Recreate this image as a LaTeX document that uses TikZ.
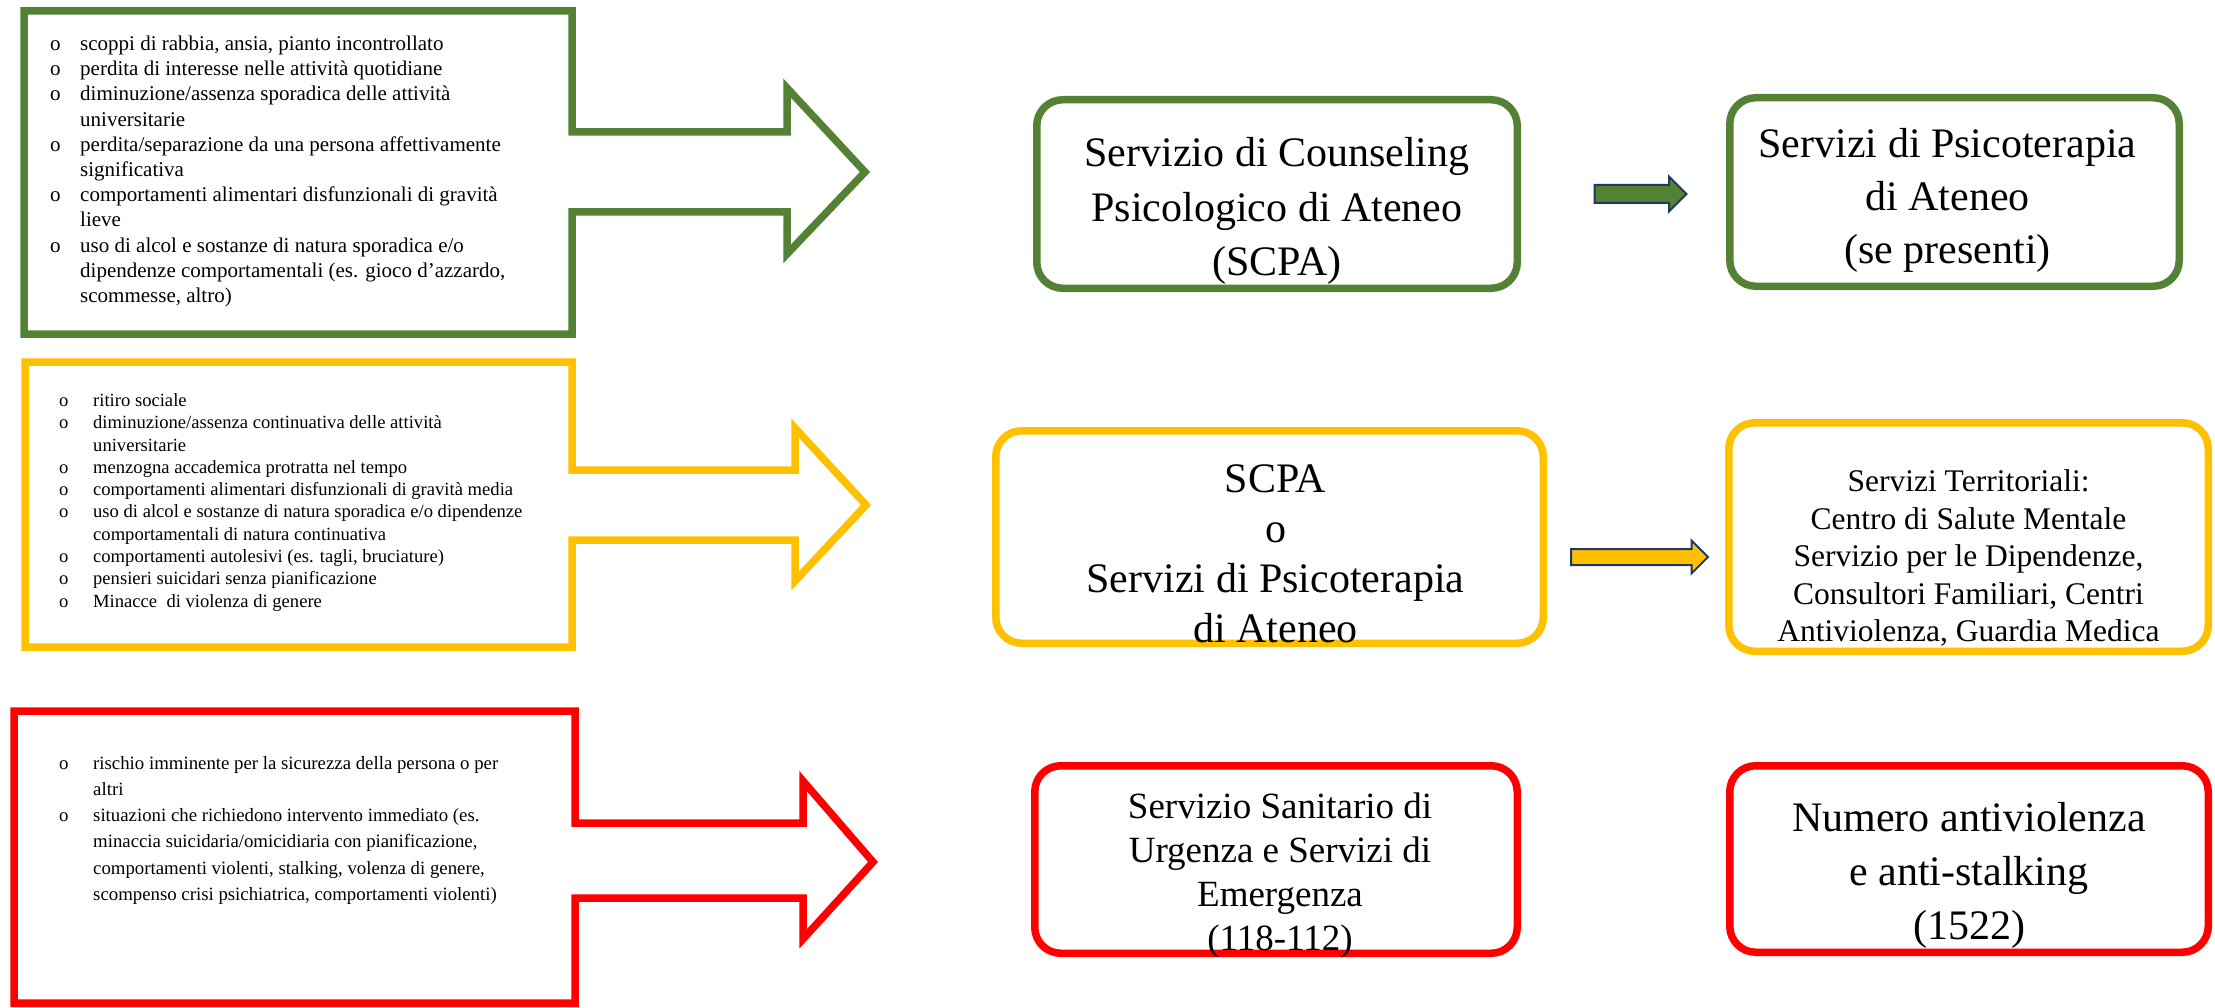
\documentclass[tikz,border=0pt]{standalone}
\usepackage{fontspec}
\setmainfont{Liberation Serif}
\usetikzlibrary{shapes.arrows,positioning}
\definecolor{cGrn} {HTML}{548235}
\definecolor{cYel} {HTML}{FFC000}
\definecolor{cRed} {HTML}{FF0000}
\definecolor{cNavy}{HTML}{1F3864}
\tikzset{
  frame/.style ={draw=#1,line width=7.5pt,line join=miter},
  svc/.style   ={draw=#1,line width=7.5pt,rounded corners=26pt,inner sep=0pt},
  svctxt/.style={align=center,inner sep=0pt},
  lst/.style   ={align=left,anchor=north west,inner sep=0pt},
  blk/.style   ={single arrow,draw=cNavy,fill=#1,line width=2pt,inner xsep=0pt,
                 single arrow head extend=8.5pt},
}
\newcommand\bl{\makebox[34pt][l]{o}}
\newcommand\blg{\makebox[34pt][l]{\hspace{4pt}o}}
\newcommand\nb{\hspace*{34pt}}

\begin{document}
\begin{tikzpicture}[x=1pt,y=-1pt]
\useasboundingbox (0,0) rectangle (2215,1008);

% symptom boxes, each with its own block arrow
\draw[frame=cGrn] (24,11) -| (572,132) -- (787,132) -- (787,88) -- (865,172)
  -- (787,254) -- (787,212) -- (572,212) |- (24,334) -- cycle;
\draw[frame=cYel] (25,362) -| (572,470) -- (795,470) -- (795,428) -- (866,505)
  -- (795,581) -- (795,540) -- (572,540) |- (25,647) -- cycle;
\draw[frame=cRed] (14,711) -| (575,823) -- (803,823) -- (803,781) -- (873,862)
  -- (803,939) -- (803,898) -- (575,898) |- (14,1003) -- cycle;

\node[lst,font=\fontsize{21pt}{25.2pt}\selectfont] (gsym) at (46,35.7)
  {\blg scoppi di rabbia, ansia, pianto incontrollato\\
   \blg perdita di interesse nelle attività quotidiane\\
   \blg diminuzione/assenza sporadica delle attività\\
   \nb universitarie\\
   \blg perdita/separazione da una persona affettivamente\\
   \nb significativa\\
   \blg comportamenti alimentari disfunzionali di gravità\\
   \nb lieve\\
   \blg uso di alcol e sostanze di natura sporadica e/o\\
   \nb dipendenze comportamentali (es. gioco d’azzardo,\\
   \nb scommesse, altro)};
\node[lst,font=\fontsize{18.6pt}{22.3pt}\selectfont] (ysym) at (59,393.3)
  {\bl ritiro sociale\\
   \bl diminuzione/assenza continuativa delle attività\\
   \nb universitarie\\
   \bl menzogna accademica protratta nel tempo\\
   \bl comportamenti alimentari disfunzionali di gravità media\\
   \bl uso di alcol e sostanze di natura sporadica e/o dipendenze\\
   \nb comportamentali di natura continuativa\\
   \bl comportamenti autolesivi (es. tagli, bruciature)\\
   \bl pensieri suicidari senza pianificazione\\
   \bl Minacce\ \ di violenza di genere};
\node[lst,font=\fontsize{18.8pt}{26.2pt}\selectfont] (rsym) at (59,756)
  {\bl rischio imminente per la sicurezza della persona o per\\
   \nb altri\\
   \bl situazioni che richiedono intervento immediato (es.\\
   \nb minaccia suicidaria/omicidiaria con pianificazione,\\
   \nb comportamenti violenti, stalking, volenza di genere,\\
   \nb scompenso crisi psichiatrica, comportamenti violenti)};

% services
\node[svc=cGrn,minimum width=480.5pt,minimum height=188.5pt] (gmid) at (1277,194) {};
\node[svc=cGrn,minimum width=449.5pt,minimum height=188.5pt] (gright) at (1954.5,192) {};
\node[svc=cYel,minimum width=547.5pt,minimum height=212.5pt] (ymid) at (1269.5,537) {};
\node[svc=cYel,minimum width=479.5pt,minimum height=228.5pt] (yright) at (1968.5,537) {};
\node[svc=cRed,minimum width=482.5pt,minimum height=187.5pt] (rmid) at (1276,859.5) {};
\node[svc=cRed,minimum width=478.5pt,minimum height=186.5pt] (rright) at (1969,859) {};

\node[svctxt,font=\fontsize{42pt}{54.5pt}\selectfont] (gmidt) at ([yshift=-17pt]gmid.center)
  {Servizio di Counseling\\Psicologico di Ateneo\\(SCPA)};
\node[svctxt,font=\fontsize{42pt}{53pt}\selectfont] (grightt) at ([xshift=-7pt,yshift=-8pt]gright.center)
  {Servizi di Psicoterapia\\di Ateneo\\(se presenti)};
\node[svctxt,font=\fontsize{42pt}{50pt}\selectfont] (ymidt) at ([xshift=6pt,yshift=-17pt]ymid.center)
  {SCPA\\o\\Servizi di Psicoterapia\\di Ateneo};
\node[svctxt,font=\fontsize{31.5pt}{37.5pt}\selectfont] (yrightt) at ([yshift=-21pt]yright.center)
  {Servizi Territoriali:\\Centro di Salute Mentale\\Servizio per le Dipendenze,\\
   Consultori Familiari, Centri\\Antiviolenza, Guardia Medica};
\node[svctxt,font=\fontsize{37pt}{44pt}\selectfont] (rmidt) at ([xshift=4pt,yshift=-16pt]rmid.center)
  {Servizio Sanitario di\\Urgenza e Servizi di\\Emergenza\\(118-112)};
\node[svctxt,font=\fontsize{42pt}{54pt}\selectfont] (rrightt) at ([yshift=-16pt]rright.center)
  {Numero antiviolenza\\e anti-stalking\\(1522)};

\node[blk=cGrn,inner ysep=8pt,minimum height=92pt] (garr) at (1636,194) {};
\node[blk=cYel,inner ysep=7pt,minimum height=137pt] (yarr) at (1635.5,557) {};
\end{tikzpicture}
\end{document}
